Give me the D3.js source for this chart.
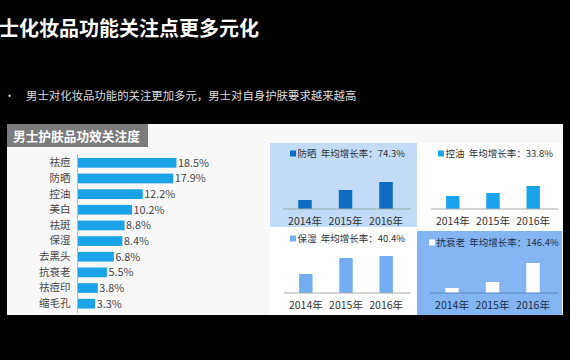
<!DOCTYPE html>
<html><head><meta charset="utf-8">
<script src="https://cdn.jsdelivr.net/npm/d3@7"></script>
<style>html,body{margin:0;padding:0;background:#000;}svg{display:block;}</style>
</head><body>
<script>
const title = "士化妆品功能关注点更多元化";
const subtitle = "男士对化妆品功能的关注更加多元，男士对自身护肤要求越来越高";
const chartTitle = "男士护肤品功效关注度";
const categories = ["祛痘","防晒","控油","美白","祛斑","保湿","去黑头","抗衰老","祛痘印","缩毛孔"];
const values = [18.5,17.9,12.2,10.2,8.8,8.4,6.8,5.5,3.8,3.3];
const years = ["2014年","2015年","2016年"];
const panelNames = ["防晒","控油","保湿","抗衰老"];
const panelRates = ["74.3%","33.8%","40.4%","146.4%"];
const sunscreen = [9,19,27];
const oilControl = [13,16,23];
const moisture = [19,35,37];
const antiAging = [5,11,30];

const W=570,H=360;
const font = "'Noto Sans CJK SC','Noto Sans',sans-serif";
const svg = d3.select("body").append("svg").attr("width",W).attr("height",H).style("font-family",font);
svg.append("rect").attr("width",W).attr("height",H).attr("fill","#000");
svg.append("text").attr("x",-1).attr("y",35.5).attr("fill","#fff").attr("font-size",20).attr("font-weight","bold").text(title);
svg.append("text").attr("x",4).attr("y",100).attr("fill","#ddd").attr("font-size",11).text("•");
svg.append("text").attr("x",26).attr("y",100).attr("fill","#ddd").attr("font-size",11.4).text(subtitle);

// main panel
svg.append("rect").attr("x",7).attr("y",124).attr("width",556).attr("height",191).attr("fill","#f8f8f9");
svg.append("rect").attr("x",7).attr("y",124).attr("width",141).attr("height",23).attr("fill","#7b7b7b");
svg.append("text").attr("x",13).attr("y",140.5).attr("fill","#fff").attr("font-size",12.7).attr("font-weight","bold").text(chartTitle);

// bar chart
const x0 = 77.5;
const xs = d3.scaleLinear().domain([0,20]).range([x0, x0+107]);
const ys = d3.scaleBand().domain(categories).range([155,311.5]).paddingInner(0.38).paddingOuter(0.19);
const g = svg.append("g");
g.selectAll("rect.bar").data(values).join("rect").attr("class","bar")
 .attr("x",x0).attr("y",(d,i)=>ys(categories[i])).attr("width",d=>xs(d)-x0).attr("height",ys.bandwidth()).attr("fill","#1aa3e6");
g.selectAll("text.val").data(values).join("text").attr("class","val")
 .attr("x",d=>xs(d)+1.5).attr("y",(d,i)=>ys(categories[i])+ys.bandwidth()/2).attr("dy","0.36em")
 .attr("font-size",10.8).attr("fill","#444").text(d=>d.toFixed(1)+"%");
const yAxis = d3.axisLeft(ys).tickSize(0).tickPadding(7);
const ya = svg.append("g").attr("transform",`translate(${x0},0)`).call(yAxis);
ya.select(".domain").attr("stroke","#bbb").attr("d","M0,154V313");
ya.selectAll("text").attr("font-size",10.5).attr("fill","#444").attr("font-family",font);

// small panels
const panels = [
 {x:270,y:143,w:147,h:84,bg:"#c2dbf6",bar:"#0e6dc2",axis:"#9aa",data:sunscreen,base:209,leg:290,lab:"#333"},
 {x:417,y:143,w:146,h:88,bg:"#ffffff",bar:"#18a3ea",axis:"#aaa",data:oilControl,base:209,leg:438,lab:"#333"},
 {x:270,y:227,w:147,h:88,bg:"#ffffff",bar:"#74aef2",axis:"#aaa",data:moisture,base:293,leg:290,lab:"#333"},
 {x:417,y:231,w:145,h:84,bg:"#82b5f2",bar:"#ffffff",axis:"#5a86c0",data:antiAging,base:293,leg:429,lab:"#1f2f4a"}
];
const barX = [[293,338,383],[441,486,530],[294,338,383],[440,485,530]];
panels.forEach((p,pi)=>{
  const pg = svg.append("g");
  pg.append("rect").attr("x",p.x).attr("y",p.y).attr("width",p.w).attr("height",p.h).attr("fill",p.bg);
  const xb = d3.scaleBand().domain(years).range([barX[pi][0]-15, barX[pi][2]+30]).paddingInner(2/3).paddingOuter(1/2);
  const yl = d3.scaleLinear().domain([0,40]).range([p.base, p.base-40]);
  pg.selectAll("rect.b").data(p.data).join("rect").attr("class","b")
    .attr("x",(d,i)=>xb(years[i])).attr("y",d=>yl(d)).attr("width",xb.bandwidth()).attr("height",d=>yl(0)-yl(d)).attr("fill",p.bar);
  const ax = d3.axisBottom(xb).tickSize(0).tickPadding(8.5);
  const ag = pg.append("g").attr("transform",`translate(0,${p.base})`).call(ax);
  ag.select(".domain").attr("stroke",p.axis).attr("d",`M${barX[pi][0]-10},0H${barX[pi][2]+28}`);
  ag.selectAll("text").attr("font-size",10.5).attr("fill",p.lab).attr("font-family",font);
  const ly = p.y + (pi<2?11:12);
  pg.append("rect").attr("x",p.leg).attr("y",ly-3.5).attr("width",6).attr("height",6).attr("fill",p.bar);
  pg.append("text").attr("x",p.leg+7.5).attr("y",ly).attr("dy","0.36em").attr("font-size",9.5).attr("fill",p.lab)
    .text(panelNames[pi]+"\u00a0\u00a0年均增长率："+panelRates[pi]);
});
</script>
</body></html>
